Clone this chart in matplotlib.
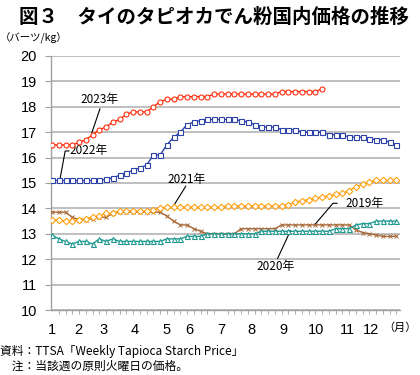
import matplotlib
matplotlib.use("Agg")
import matplotlib.pyplot as plt
import numpy as np

plt.rcParams['font.family'] = ['Noto Sans CJK JP', 'DejaVu Sans']

# weekly prices (baht/kg), week index 0 = first week of January
y2023 = [16.5, 16.5, 16.5, 16.5, 16.6, 16.7, 16.9, 17.1, 17.2, 17.4, 17.5, 17.7,
         17.8, 17.8, 17.8, 18.0, 18.2, 18.3, 18.3, 18.4, 18.4, 18.4, 18.4, 18.4,
         18.5, 18.5, 18.5, 18.5, 18.5, 18.5, 18.5, 18.5, 18.5, 18.5,
         18.6, 18.6, 18.6, 18.6, 18.6, 18.6, 18.7]
y2022 = [15.1] * 8 + [15.15, 15.2, 15.3, 15.4, 15.5, 15.6, 15.7, 16.1, 16.1,
         16.5, 16.8, 17.0, 17.3, 17.4, 17.45, 17.5, 17.5, 17.5, 17.5, 17.5,
         17.45, 17.4, 17.3, 17.2, 17.2, 17.2, 17.1, 17.1, 17.1,
         17.0, 17.0, 17.0, 17.0, 16.9, 16.9, 16.9, 16.8, 16.8, 16.8,
         16.75, 16.7, 16.7, 16.6, 16.5]
y2021 = [13.55, 13.55, 13.5, 13.5, 13.55, 13.6, 13.65, 13.7, 13.8, 13.8,
         13.9, 13.9, 13.9, 13.9, 13.9, 13.95, 14.0] + [14.05] * 9 + [14.1] * 9 + \
        [14.15, 14.25, 14.3, 14.35, 14.4, 14.45, 14.5, 14.55, 14.6, 14.7,
         14.85, 14.95, 15.05, 15.1, 15.1, 15.1, 15.1]
y2020 = [12.95, 12.8, 12.7, 12.6, 12.7, 12.7, 12.6, 12.8, 12.7, 12.8] + \
        [12.7] * 7 + [12.8] * 3 + [12.9] * 3 + [13.0] * 8 + [13.1] * 11 + \
        [13.2] * 3 + [13.35, 13.4, 13.4, 13.5, 13.5, 13.5, 13.5]
y2019 = [13.85, 13.85, 13.85, 13.65, 13.55, 13.55, 13.6, 13.65, 13.65, 13.8] + \
        [13.85] * 7 + [13.7, 13.5, 13.35, 13.35, 13.2, 13.1] + [13.0] * 5 + \
        [13.2] * 6 + [13.35] * 11 + [13.15, 13.05, 13.0, 12.95, 12.9, 12.9, 12.9]

month_pos = [0, 3.9, 7.7, 12.3, 16.9, 20.4, 25, 29.6, 34.2, 39.1, 43.8, 47.3]
month_lbl = [str(m) for m in range(1, 13)]

fig = plt.figure(figsize=(4.2, 3.75), dpi=100)
ax = fig.add_axes([0.1214, 0.1733, 0.8306, 0.6774])

ax.plot(np.arange(len(y2019)), y2019, color='#a8693a', lw=1.0, marker='x',
        ms=2.4, mew=0.7, zorder=3)
ax.plot(np.arange(len(y2020)), y2020, color='#1f9a90', lw=1.0, marker='^',
        ms=3.6, mfc='white', mew=0.8, zorder=3)
ax.plot(np.arange(len(y2021)), y2021, color='#ffa010', lw=1.0, marker='D',
        ms=3.3, mfc='white', mew=0.8, zorder=3)
ax.plot(np.arange(len(y2022)), y2022, color='#2d42a8', lw=1.0, marker='s',
        ms=3.6, mfc='white', mew=0.8, zorder=4)
ax.plot(np.arange(len(y2023)), y2023, color='#ff3010', lw=1.0, marker='o',
        ms=3.6, mfc='white', mew=0.8, zorder=4)

ax.set_ylim(10, 20)
ax.set_xlim(-0.15, 51.5)
ax.set_yticks(range(10, 21))
ax.grid(axis='y', color='#b4b4b4', lw=1.2)
ax.set_axisbelow(True)
for s in ['top', 'right']:
    ax.spines[s].set_visible(False)
for s in ['left', 'bottom']:
    ax.spines[s].set_color('#a0a0a0')
    ax.spines[s].set_linewidth(1.0)

ax.set_xticks(month_pos)
ax.set_xticklabels(month_lbl, family='Liberation Sans', fontsize=10.5)
ax.set_xticks(np.arange(0, 52), minor=True)
ax.tick_params(axis='x', which='major', length=0, pad=9)
ax.tick_params(axis='x', which='minor', length=3, color='#a0a0a0', direction='out')
ax.tick_params(axis='y', length=4, color='#a0a0a0', pad=6)
for t in ax.get_yticklabels():
    t.set_family('Liberation Sans')
    t.set_fontsize(10.5)

# annotations
kw = dict(fontsize=8.5, ha='center', va='center')
lk = dict(color='black', lw=0.8)
ax.text(7.1, 18.27, '2023年', **kw)
ax.plot([7.1, 5.9], [17.92, 16.98], **lk)
ax.text(5.4, 16.26, '2022年', **kw)
ax.plot([2.5, 1.95, 1.2], [16.26, 16.26, 15.17], **lk)
ax.text(19.9, 15.15, '2021年', **kw)
ax.plot([19.8, 17.9], [14.87, 14.06], **lk)
ax.text(46.3, 14.2, '2019年', **kw)
ax.plot([42.2, 41.6, 38.9], [14.2, 14.2, 13.36], **lk)
ax.text(33.1, 11.7, '2020年', **kw)
ax.plot([33.4, 35.3], [12.03, 13.12], **lk)

fig.text(0.045, 0.955, '図３　タイのタピオカでん粉国内価格の推移', fontsize=14,
         fontweight='bold', va='center', ha='left')
fig.text(0.0, 0.897, '（バーツ/kg）', fontsize=7.5, va='center', ha='left')
fig.text(0.993, 0.125, '（月）', fontsize=8, va='center', ha='right')
fig.text(0.0, 0.062, '資料：TTSA「Weekly Tapioca Starch Price」', fontsize=8.5,
         va='center', ha='left')
fig.text(0.0, 0.023, '　注：当該週の原則火曜日の価格。', fontsize=8.5,
         va='center', ha='left')

fig.savefig('out.png', dpi=100)
